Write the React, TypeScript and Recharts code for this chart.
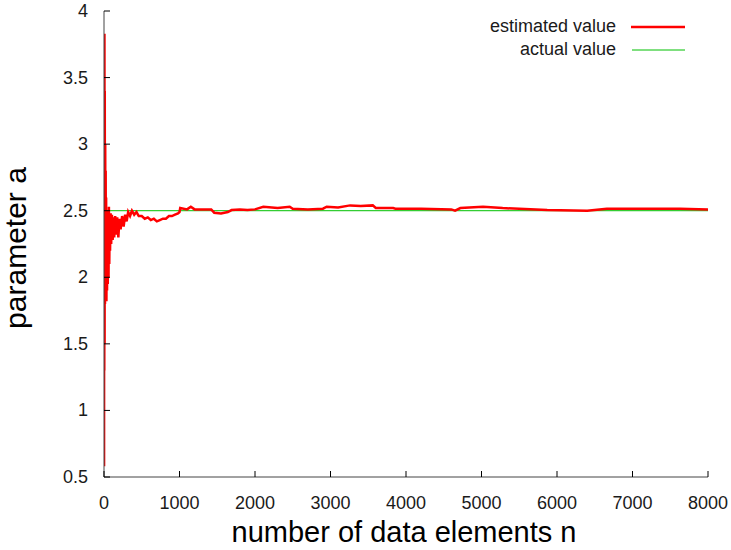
import React from "react";
import { LineChart, Line, XAxis, YAxis } from "recharts";

const nValues = [
  1, 2, 4, 6, 8, 10, 13, 16, 19, 22, 25, 28, 32, 36, 40, 45, 50, 55, 60, 65, 70, 75, 80, 88, 95,
  105, 115, 125, 135, 148, 160, 175, 190, 205, 220, 240, 260, 280, 300, 320, 345, 370, 400, 430,
  460, 500, 540, 580, 620, 660, 700, 740, 780, 820, 860, 900, 940, 980, 1000, 1010, 1100, 1150,
  1200, 1300, 1420, 1460, 1550, 1640, 1690, 1800, 1900, 2000, 2110, 2300, 2460, 2500, 2700, 2900,
  2950, 3100, 3260, 3400, 3560, 3600, 3830, 3860, 4200, 4600, 4650, 4720, 5020, 5280, 5870, 6400,
  6660, 7230, 7630, 8000,
];
const estimatedValues = [
  0.58, 3.75, 1.3, 3.83, 1.5, 3.4, 1.8, 3.0, 2.0, 2.8, 1.85, 2.6, 1.82, 2.5, 1.9, 2.45, 1.95, 2.5,
  2.0, 2.53, 2.1, 2.45, 2.2, 2.48, 2.25, 2.47, 2.28, 2.45, 2.3, 2.46, 2.32, 2.45, 2.3, 2.44, 2.36,
  2.46, 2.38, 2.47, 2.42, 2.49, 2.46, 2.5, 2.47, 2.49, 2.46, 2.46, 2.44, 2.45, 2.43, 2.44, 2.42,
  2.43, 2.44, 2.44, 2.46, 2.46, 2.47, 2.48, 2.49, 2.52, 2.51, 2.53, 2.51, 2.51, 2.51, 2.485, 2.48,
  2.49, 2.505, 2.51, 2.505, 2.51, 2.53, 2.52, 2.53, 2.515, 2.51, 2.515, 2.53, 2.525, 2.54, 2.535,
  2.54, 2.52, 2.52, 2.515, 2.515, 2.51, 2.5, 2.52, 2.53, 2.52, 2.505, 2.5, 2.515, 2.515, 2.515,
  2.51,
];
const actualN = [0, 8000];
const actualValues = [2.5, 2.5];
const xTicks = [0, 1000, 2000, 3000, 4000, 5000, 6000, 7000, 8000];
const yTicks = [0.5, 1, 1.5, 2, 2.5, 3, 3.5, 4];

const estData = nValues.map((n, i) => ({ n, v: estimatedValues[i] }));
const actData = actualN.map((n, i) => ({ n, v: actualValues[i] }));

const FONT = "'Liberation Sans', Arial, Helvetica, sans-serif";
const TEXT = "#1a1a1a";

const BottomTick = (props: any) => {
  const { x, y, payload } = props;
  return (
    <g>
      <line x1={x} y1={y} x2={x} y2={y - 6} stroke="#000" strokeWidth={1} />
      <text x={x} y={y + 32} textAnchor="middle" fontSize={18} fill={TEXT} fontFamily={FONT}>
        {payload.value}
      </text>
    </g>
  );
};
const TopTick = (props: any) => {
  const { x, y } = props;
  return <line x1={x} y1={y} x2={x} y2={y + 6} stroke="#000" strokeWidth={1} />;
};
const LeftTick = (props: any) => {
  const { x, y, payload } = props;
  return (
    <g>
      <line x1={x} y1={y} x2={x + 6} y2={y} stroke="#000" strokeWidth={1} />
      <text x={x - 16} y={y + 6} textAnchor="end" fontSize={18} fill={TEXT} fontFamily={FONT}>
        {String(payload.value)}
      </text>
    </g>
  );
};
const RightTick = (props: any) => {
  const { x, y } = props;
  return <line x1={x} y1={y} x2={x - 6} y2={y} stroke="#000" strokeWidth={1} />;
};

export default function App() {
  return (
    <div style={{ position: "absolute", left: 0, top: 0, width: 731, height: 550, background: "#fff" }}>
      <LineChart width={731} height={550} margin={{ top: 11, right: 23, bottom: 0, left: 0 }}>
        <XAxis
          xAxisId="b"
          type="number"
          dataKey="n"
          orientation="bottom"
          domain={[0, 8000]}
          ticks={xTicks}
          interval={0}
          height={73}
          tickSize={0}
          tickMargin={0}
          tickLine={false}
          axisLine={{ stroke: "#444" }}
          tick={<BottomTick />}
          allowDataOverflow
        />
        <XAxis
          xAxisId="t"
          type="number"
          dataKey="n"
          orientation="top"
          domain={[0, 8000]}
          ticks={xTicks}
          interval={0}
          height={0}
          tickSize={0}
          tickMargin={0}
          tickLine={false}
          axisLine={{ stroke: "#444" }}
          tick={<TopTick />}
          allowDataOverflow
        />
        <YAxis
          yAxisId="l"
          type="number"
          orientation="left"
          domain={[0.5, 4]}
          ticks={yTicks}
          interval={0}
          width={104}
          tickSize={0}
          tickMargin={0}
          tickLine={false}
          axisLine={{ stroke: "#444" }}
          tick={<LeftTick />}
          allowDataOverflow
        />
        <YAxis
          yAxisId="r"
          type="number"
          orientation="right"
          domain={[0.5, 4]}
          ticks={yTicks}
          interval={0}
          width={0}
          tickSize={0}
          tickMargin={0}
          tickLine={false}
          axisLine={{ stroke: "#444" }}
          tick={<RightTick />}
          allowDataOverflow
        />
        <Line
          xAxisId="b"
          yAxisId="l"
          data={actData}
          dataKey="v"
          type="linear"
          stroke="#00c000"
          strokeWidth={1}
          dot={false}
          isAnimationActive={false}
        />
        <Line
          xAxisId="b"
          yAxisId="l"
          data={estData}
          dataKey="v"
          type="linear"
          stroke="#ff0000"
          strokeWidth={2.5}
          dot={false}
          isAnimationActive={false}
        />
      </LineChart>
      <svg
        width={731}
        height={550}
        style={{ position: "absolute", left: 0, top: 0, pointerEvents: "none" }}
      >
        <text x={616} y={32} textAnchor="end" fontSize={18} fill={TEXT} fontFamily={FONT}>
          estimated value
        </text>
        <line x1={631} y1={27} x2={685} y2={27} stroke="#ff0000" strokeWidth={2.5} />
        <text x={616} y={55} textAnchor="end" fontSize={18} fill={TEXT} fontFamily={FONT}>
          actual value
        </text>
        <line x1={632} y1={50} x2={685} y2={50} stroke="#00c000" strokeWidth={1} />
        <text x={404} y={542} textAnchor="middle" fontSize={29} fill="#000" fontFamily={FONT}>
          number of data elements n
        </text>
        <text
          x={0}
          y={0}
          transform="translate(26,248) rotate(-90)"
          textAnchor="middle"
          fontSize={30}
          fill="#000"
          fontFamily={FONT}
        >
          parameter a
        </text>
      </svg>
    </div>
  );
}
